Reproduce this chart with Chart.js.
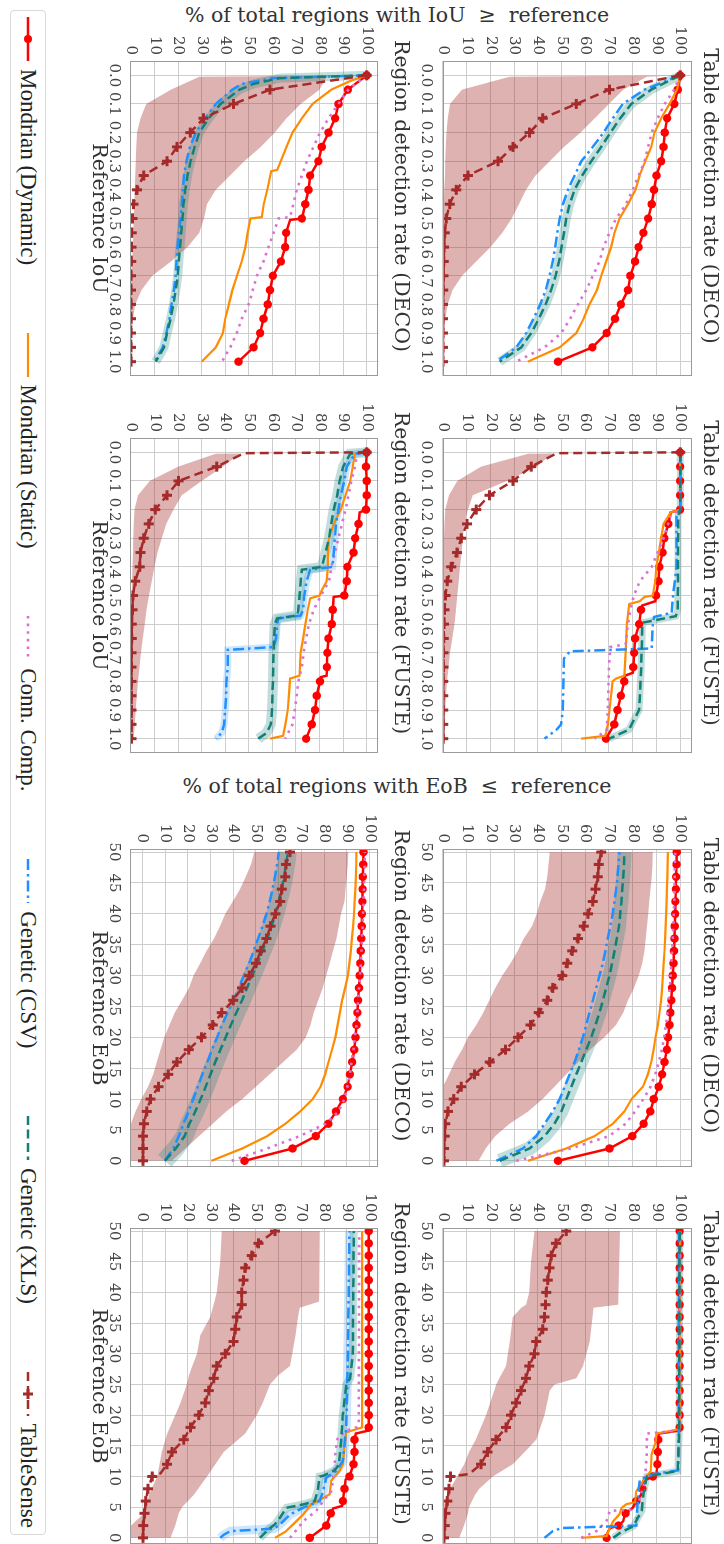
<!DOCTYPE html>
<html>
<head>
<meta charset="utf-8">
<script src="https://cdn.jsdelivr.net/npm/chart.js@4.4.1/dist/chart.umd.min.js"></script>
<style>
html, body { margin:0; padding:0; background:#fff; }
body { width:724px; height:1544px; overflow:hidden; position:relative; }
#fig { position:absolute; left:0; top:0; width:1544px; height:724px; transform-origin:0 0; transform:translate(724px,0) rotate(90deg); background:#fff; }
#fig canvas { position:absolute; }
.ylab { position:absolute; width:520px; height:26px; line-height:26px; text-align:center; font:20.5px 'DejaVu Serif', serif; color:#333; transform:rotate(-90deg); white-space:nowrap; }
#legend { position:absolute; left:10px; top:678px; width:1525px; height:36px; box-sizing:border-box; border:1px solid #d9d9d9; border-radius:4px; display:flex; align-items:center; justify-content:space-between; padding:0 6px; font:23px 'Liberation Serif', serif; color:#222; }
.item { display:flex; align-items:center; white-space:nowrap; }
.item svg { margin-right:8px; }
</style>
</head>
<body>
<div id="fig">
  <div class="ylab" style="left:-244px; top:314px;">% of total regions with IoU &nbsp;≥&nbsp; reference</div>
  <div class="ylab" style="left:527px; top:314px;">% of total regions with EoB &nbsp;≤&nbsp; reference</div>
  <div id="legend">
    <div class="item"><svg width="44" height="20"><line x1="0" y1="10" x2="44" y2="10" stroke="#ff0000" stroke-width="2.5"/><circle cx="22" cy="10" r="4" fill="#ff0000"/></svg>Mondrian (Dynamic)</div>
    <div class="item"><svg width="44" height="20"><line x1="0" y1="10" x2="44" y2="10" stroke="#ff8c00" stroke-width="2.2"/></svg>Mondrian (Static)</div>
    <div class="item"><svg width="44" height="20"><line x1="0" y1="10" x2="44" y2="10" stroke="#da70d6" stroke-width="2.6" stroke-dasharray="2.6 5"/></svg>Conn. Comp.</div>
    <div class="item"><svg width="44" height="20"><line x1="0" y1="10" x2="44" y2="10" stroke="#1e90ff" stroke-width="2.5" stroke-dasharray="11 4 2.5 4"/></svg>Genetic (CSV)</div>
    <div class="item"><svg width="44" height="20"><line x1="0" y1="10" x2="44" y2="10" stroke="#138078" stroke-width="2.5" stroke-dasharray="9 4.5"/></svg>Genetic (XLS)</div>
    <div class="item"><svg width="44" height="20"><line x1="0" y1="10" x2="44" y2="10" stroke="#a52a2a" stroke-width="2.5" stroke-dasharray="9 5"/><path d="M17 10 H27 M22 5 V15" stroke="#a52a2a" stroke-width="3"/></svg>TableSense</div>
  </div>
</div>
<script>
// x grids and tick labels
const IOU_X = [0, 0.05, 0.1, 0.15, 0.2, 0.25, 0.3, 0.35, 0.4, 0.45, 0.5, 0.55, 0.6, 0.65, 0.7, 0.75, 0.8, 0.85, 0.9, 0.95, 1];
const IOU_BAND_X = [0, 0.005, 0.05, 0.1, 0.15, 0.2, 0.25, 0.3, 0.35, 0.4, 0.45, 0.5, 0.55, 0.6, 0.65, 0.7, 0.75, 0.8, 0.85, 0.9, 0.95, 1];
const EOB_X = [0, 2, 4, 6, 8, 10, 12, 14, 16, 18, 20, 22, 24, 26, 28, 30, 32, 34, 36, 38, 40, 42, 44, 46, 48, 50];
const IOU_TICKS = [0, 0.1, 0.2, 0.3, 0.4, 0.5, 0.6, 0.7, 0.8, 0.9, 1];
const EOB_TICKS = [0, 5, 10, 15, 20, 25, 30, 35, 40, 45, 50];
const Y_TICKS = [0, 10, 20, 30, 40, 50, 60, 70, 80, 90, 100];

// Table detection rate (DECO), IoU
const tIouDecoDyn = [100, 99, 97.5, 94.5, 93.5, 93, 92, 90, 89, 88, 86.5, 84.5, 82.5, 81, 79, 78, 75, 72.5, 69, 63, 48.5];
const tIouDecoSta = [100, 98.7, 95.5, 92, 89.2, 87.8, 85.3, 82.9, 81.2, 78, 74.4, 72.3, 70.9, 68.8, 66.7, 64.9, 61.8, 59.3, 56.2, 49.2, 35.8];
const tIouDecoConn = [100, 97.5, 93.5, 90.5, 88, 86.5, 85, 82.5, 80, 77.2, 73, 70.2, 67.7, 66, 63.2, 60.4, 56.9, 53.6, 49.9, 42.8, 30.9];
const tIouDecoCsv = [100, 85, 75.8, 71.6, 67.7, 63.2, 58.3, 55.5, 52.7, 50.6, 49.2, 48.2, 47.3, 46.3, 44.9, 43.3, 41, 38.2, 35.1, 30.9, 22.5];
const tIouDecoXls = [100, 87.8, 79.4, 74.7, 70.6, 66.7, 62.5, 58.7, 55.5, 53.4, 52, 51, 50, 48.9, 47.5, 45.6, 43.3, 40.4, 37.2, 33, 23.9];
const tIouDecoTs = [100, 70.2, 56.2, 42.1, 36.5, 29.5, 23.2, 10.5, 5.6, 2.8, 1.4, 0.7, 0.4, 0.3, 0.2, 0.1, 0, 0, 0, 0, 0];
const tIouDecoTsHi = [100, 86, 76, 70, 64, 58, 51, 45, 39, 35, 32, 29, 25, 20, 14, 8, 4, 2, 1, 0.5, 0, 0];
const tIouDecoTsLo = [100, 28, 8, 3, 2, 1.5, 1.2, 1, 0.8, 0.5, 0.3, 0, 0, 0, 0, 0, 0, 0, 0, 0, 0, 0];

// Region detection rate (DECO), IoU
const rIouDecoDyn = [[0,100],[0.05,92],[0.1,88],[0.15,86.6],[0.2,83.8],[0.25,80.9],[0.3,79.5],[0.35,76],[0.4,75.3],[0.45,73.9],[0.5,72.5],[0.505,67.5],[0.55,65.8],[0.6,65.4],[0.65,63.6],[0.7,60.2],[0.75,59],[0.8,58],[0.85,56.2],[0.9,54.8],[0.95,52],[1,45.6]];
const rIouDecoSta = [[0,100],[0.02,93],[0.05,85],[0.1,77],[0.15,72.5],[0.2,68.5],[0.25,66],[0.3,63.5],[0.33,62],[0.335,59.5],[0.4,57.8],[0.45,56.3],[0.495,55.5],[0.5,50.7],[0.55,49.5],[0.6,48.5],[0.65,47],[0.7,45],[0.75,43],[0.8,41.5],[0.85,40],[0.9,39],[0.95,36],[1,30]];
const rIouDecoConn = [[0,100],[0.05,92.2],[0.1,88],[0.15,83.8],[0.2,80.2],[0.25,77.4],[0.3,74.6],[0.35,72.5],[0.4,70.3],[0.45,68.9],[0.495,67.5],[0.5,62.6],[0.55,60.5],[0.6,58.3],[0.65,56.2],[0.7,53.4],[0.75,51.7],[0.8,49.9],[0.85,47],[0.9,44.9],[0.95,42.1],[1,38.6]];
const rIouDecoCsv = [[0,100],[0.01,60],[0.03,47],[0.05,43],[0.1,36],[0.15,31.5],[0.2,27.5],[0.25,25],[0.3,23.5],[0.35,22.5],[0.4,22],[0.45,21.5],[0.5,21],[0.55,20.3],[0.6,19.7],[0.65,19.3],[0.7,19],[0.75,18.2],[0.8,17.2],[0.85,16.3],[0.9,15],[0.95,13.5],[1,10]];
const rIouDecoXls = [[0,100],[0.01,63],[0.03,52],[0.05,46],[0.1,38],[0.15,33],[0.2,29],[0.25,27],[0.3,25.3],[0.35,24],[0.4,23],[0.45,22.3],[0.5,21.8],[0.55,21.3],[0.6,20.8],[0.65,20.3],[0.7,19.8],[0.75,19],[0.8,18],[0.85,16.8],[0.9,15.3],[0.95,14],[1,10.5]];
const rIouDecoTs = [100, 59, 43.5, 30.8, 25.1, 19.5, 15.3, 5.4, 2.5, 1.1, 0.6, 0.3, 0.2, 0.1, 0, 0, 0, 0, 0, 0, 0];
const rIouDecoTsHi = [100, 83, 80, 72, 66, 61, 55, 48, 42, 36, 32.2, 31, 29, 24, 17, 9, 4.5, 1.8, 0.8, 0.3, 0, 0];
const rIouDecoTsLo = [100, 29, 17, 6.5, 4, 2.5, 2.2, 2, 1.8, 1.6, 1.5, 1.2, 1, 0.8, 0.4, 0, 0, 0, 0, 0, 0, 0];

// Table detection rate (FUSTE), IoU
const tIouFusteDyn = [[0,100],[0.05,100],[0.1,100],[0.15,100],[0.2,100],[0.21,96],[0.25,95],[0.3,93.3],[0.35,92.6],[0.4,91.2],[0.45,90.9],[0.5,89.8],[0.52,89.5],[0.535,84],[0.55,83.5],[0.6,82.7],[0.65,81],[0.7,80.6],[0.75,80.2],[0.77,80],[0.78,76.8],[0.8,76.4],[0.85,75],[0.9,73.6],[0.95,72.2],[1,68.7]];
const tIouFusteSta = [[0,100],[0.2,100],[0.21,96],[0.25,93],[0.3,92],[0.35,91],[0.4,90],[0.45,89.5],[0.5,88.5],[0.505,85],[0.52,83],[0.53,78.5],[0.6,77.5],[0.7,77],[0.78,76.5],[0.79,73],[0.8,71.5],[0.9,70.2],[0.95,69.5],[0.99,68.5],[1,58.2]];
const tIouFusteConn = [[0,100],[0.2,100],[0.22,96],[0.3,93],[0.4,88],[0.45,83],[0.5,80.5],[0.55,79],[0.6,78],[0.67,77],[0.68,70.5],[0.75,70],[0.9,69.5],[0.97,69],[1,64]];
const tIouFusteCsv = [[0,100],[0.2,100],[0.22,98.5],[0.4,98.5],[0.5,97],[0.56,96.5],[0.575,89],[0.6,88.5],[0.685,88],[0.695,53.5],[0.72,51],[0.9,50.5],[0.95,49.8],[0.97,47.7],[1,42.8]];
const tIouFusteXls = [[0,100],[0.2,100],[0.22,99.2],[0.55,99],[0.572,98.2],[0.595,84.1],[0.77,83.5],[0.9,82.7],[0.933,80.6],[0.968,78.5],[1,70.1]];
const tIouFusteTs = [[0,100],[0.003,48],[0.05,37.2],[0.1,29.5],[0.15,19.6],[0.2,14],[0.25,10.1],[0.3,7.7],[0.35,5.9],[0.4,3.5],[0.45,1.8],[0.5,1.1],[0.55,0.6],[0.6,0.4],[0.65,0.3],[0.7,0.2],[0.75,0.2],[0.8,0.1],[0.85,0.1],[0.9,0.1],[0.95,0.1],[1,0.1]];
const tIouFusteTsHi = [100, 46, 39.5, 27, 12.5, 10.5, 9, 8.3, 7.8, 7.2, 6.6, 6, 5.5, 4.9, 3.9, 3, 2.3, 1.7, 1.3, 1, 0.8, 0.6];
const tIouFusteTsLo = [100, 36, 16, 6, 2.5, 1, 0.6, 0.4, 0.3, 0.3, 0.2, 0.2, 0.1, 0.1, 0, 0, 0, 0, 0, 0, 0, 0];

// Region detection rate (FUSTE), IoU
const rIouFusteDyn = [[0,100],[0.05,99.7],[0.1,100],[0.15,100],[0.2,99.7],[0.21,97],[0.25,96.5],[0.3,95.1],[0.35,94.4],[0.4,91.8],[0.45,91.5],[0.5,90.5],[0.505,86],[0.55,85.6],[0.6,85.2],[0.65,83.8],[0.7,83.3],[0.75,83.1],[0.78,83],[0.785,80.5],[0.8,80.2],[0.85,78.8],[0.9,78.1],[0.95,76.7],[1,74.3]];
const rIouFusteSta = [[0,100],[0.005,95],[0.1,93],[0.15,91],[0.2,89],[0.25,86],[0.3,84],[0.35,83.5],[0.4,83.5],[0.45,83],[0.48,81],[0.5,80],[0.51,76],[0.55,75],[0.6,74],[0.65,73],[0.7,72],[0.78,71.5],[0.79,67.5],[0.85,67],[0.9,66.5],[0.95,65.5],[0.99,64.5],[1,59]];
const rIouFusteConn = [[0,100],[0.005,96],[0.05,95],[0.1,93.5],[0.2,91],[0.3,88],[0.4,85],[0.45,84],[0.5,80.6],[0.55,77.5],[0.6,75.5],[0.65,74.3],[0.7,73.2],[0.75,72.5],[0.8,71],[0.85,70.3],[0.9,69.5],[0.95,68.5],[1,65.4]];
const rIouFusteCsv = [[0,100],[0.005,95],[0.05,91.5],[0.1,90.5],[0.15,89],[0.2,88],[0.25,87],[0.3,86.5],[0.35,86],[0.4,85.5],[0.41,76],[0.45,74.5],[0.5,73.5],[0.55,73],[0.57,72],[0.58,62.5],[0.6,62],[0.65,61.5],[0.68,60.5],[0.69,41],[0.75,41],[0.8,40.5],[0.85,40.3],[0.9,40],[0.95,39.5],[0.98,38.5],[1,36]];
const rIouFusteXls = [[0,100],[0.005,93],[0.05,90],[0.1,88.5],[0.15,87.5],[0.2,86],[0.25,85],[0.3,84],[0.35,82.5],[0.4,81],[0.41,72.5],[0.45,72],[0.5,71.5],[0.55,71],[0.57,70.5],[0.58,62],[0.6,61],[0.7,60.5],[0.8,60.2],[0.9,59.8],[0.95,59.3],[0.98,57.5],[1,54]];
const rIouFusteTs = [[0,100],[0.003,48],[0.05,36.4],[0.1,20.2],[0.15,15.3],[0.2,10.3],[0.25,7.5],[0.3,5.4],[0.35,4],[0.4,3.7],[0.45,1.8],[0.5,0.8],[0.55,0.6],[0.6,0.3],[0.65,0.3],[0.7,0.2],[0.75,0.2],[0.8,0.2],[0.85,0.2],[0.9,0.2],[0.95,0.2],[1,0.2]];
const rIouFusteTsHi = [100, 46, 39, 30, 21.5, 18, 15, 13, 11.2, 10, 8.8, 7.6, 6.6, 5.8, 5, 4.2, 3.6, 3, 2.4, 2, 1.6, 1.2];
const rIouFusteTsLo = [100, 36, 20, 8, 3, 1.5, 1.2, 1, 0.8, 0.6, 0.4, 0.3, 0.2, 0, 0, 0, 0, 0, 0, 0, 0, 0];

// Table detection rate (DECO), EoB
const tEobDecoDyn = [48.5, 70.2, 79.8, 84.6, 87.4, 88.9, 91, 92.4, 93.4, 94.4, 94.9, 95.5, 95.9, 96.3, 96.6, 96.9, 97.2, 97.4, 97.6, 97.7, 97.9, 98, 98.2, 98.3, 98.5, 98.6];
const tEobDecoSta = [35.8, 52, 63.9, 71.6, 76.5, 79.5, 84.3, 86.4, 87.8, 88.8, 89.6, 90.6, 91.3, 92, 92.4, 92.7, 93, 93.4, 93.7, 93.9, 94.1, 94.3, 94.4, 94.6, 94.7, 94.8];
const tEobDecoConn = [30.9, 54, 70, 77, 81, 84.5, 87.5, 89.5, 91, 92.3, 93.3, 94, 94.6, 95.2, 95.6, 96, 96.3, 96.6, 96.9, 97.1, 97.3, 97.5, 97.6, 97.7, 97.8, 97.9];
const tEobDecoCsv = [22.5, 33.7, 39.3, 42.8, 46.3, 49.2, 51.3, 53.4, 55.5, 57.3, 59, 60.4, 61.8, 63.2, 64.6, 66, 67.4, 68.5, 69.5, 70.5, 71.6, 72.3, 73, 73.6, 74, 74.4];
const tEobDecoXls = [23.9, 36.5, 42.8, 47, 49.9, 52, 54.1, 56.2, 58.3, 60.4, 62.5, 64.3, 66, 67.4, 68.8, 70.2, 71.3, 72.3, 73.3, 74.2, 74.7, 75.3, 75.6, 76, 76.3, 76.5];
const tEobDecoTs = [0.4, 0.4, 0.7, 1, 2.1, 4.5, 7.7, 13.3, 19.7, 26.4, 31.6, 36.9, 40.4, 44, 46.3, 50.3, 52.4, 54.5, 56.9, 59.3, 61.1, 63.2, 64.3, 65.3, 65.7, 66.7];
const tEobDecoTsHi = [15, 18, 22, 28, 36, 42, 47, 52, 57, 62, 68, 73, 76, 78, 80.5, 82.5, 84, 85, 85.5, 86, 86.5, 87, 87.5, 88, 88.3, 88.5];
const tEobDecoTsLo = [0, 0, 0, 0, 0, 0, 0, 2.5, 5, 8, 10.5, 14, 17, 19.5, 22, 25, 28.5, 31.5, 34, 37.5, 39.5, 41, 43, 44, 44.5, 45];

// Region detection rate (DECO), EoB
const rEobDecoDyn = [45, 66.1, 76.4, 81.9, 85.3, 88.3, 90.4, 91.4, 92.4, 93.3, 93.9, 94.3, 94.7, 95, 95.4, 95.7, 96, 96.2, 96.4, 96.6, 96.7, 96.9, 97, 97.1, 97.3, 97.4];
const rEobDecoSta = [30.4, 44, 55, 63, 69.5, 75, 78.5, 80.5, 82, 83.5, 85, 86, 87, 88, 89.3, 90.5, 91.2, 91.8, 92.3, 92.8, 93.2, 93.5, 93.8, 94, 94.2, 94.3];
const rEobDecoConn = [39.3, 55, 69.3, 80.7, 86.4, 89, 90.3, 91.4, 92.1, 93, 93.6, 94.3, 94.7, 95, 95.4, 95.9, 96.2, 96.5, 96.7, 97, 97.2, 97.4, 97.6, 97.7, 97.9, 98];
const rEobDecoCsv = [9.9, 13.6, 16.1, 18.1, 20.4, 22.4, 24.4, 26.4, 28.6, 30.7, 32.9, 35, 37.6, 40.1, 42.4, 44.7, 47, 49, 51, 52.9, 54.7, 56.1, 57.3, 58.4, 59.3, 60.1];
const rEobDecoXls = [9.9, 14.7, 18.6, 20.7, 23.3, 25.7, 27.9, 30, 32.1, 34.4, 36.7, 39, 41.4, 43.9, 46.1, 48.4, 50.7, 52.9, 55, 56.9, 58.6, 60, 61.4, 62.4, 63.3, 64.1];
const rEobDecoTs = [0.3, 0.3, 0.3, 0.7, 1.9, 3.6, 7.1, 11.4, 15.3, 20.4, 26.1, 31, 35, 40, 43.9, 47.1, 50, 52.1, 54.7, 56.4, 58.6, 60.7, 61.4, 62.9, 63.3, 65];
const rEobDecoTsHi = [13, 19, 25, 31, 37, 44, 50, 56, 62, 68, 72, 74, 75.5, 77.5, 79.5, 81, 82.5, 84, 85.5, 86.5, 87.5, 89, 89.5, 90, 90.5, 90.7];
const rEobDecoTsLo = [-8, -7, -6, -5, -3, -0.5, 2.5, 4.8, 6.3, 8, 9.6, 12, 14.3, 17.5, 20.5, 22.5, 25.5, 28.3, 31.5, 34.2, 36.5, 39.8, 43, 45.5, 47.8, 49.3];

// Table detection rate (FUSTE), EoB
const tEobFusteDyn = [[0,69],[1,69.5],[1.6,70.5],[2,74],[2.7,76],[3.8,76.7],[4,77],[4.9,80],[6,81.5],[7,83.5],[8,84],[9.3,84.5],[10,88.5],[10.4,90],[12,90.4],[14,90.6],[16,90.8],[17,91],[17.5,99.8],[18,99.8],[20,99.8],[22,99.8],[24,99.8],[26,99.8],[28,99.8],[30,99.8],[32,99.8],[34,99.8],[36,99.8],[38,99.8],[40,99.8],[42,99.8],[44,99.8],[46,99.8],[48,99.8],[50,99.8]];
const tEobFusteSta = [[0,58.3],[0.3,69],[1.6,70.3],[2.7,71.8],[3.8,74.3],[4.9,75.3],[5.5,77.4],[5.8,81],[7.6,81.5],[9.8,85.2],[10.9,87.6],[13.6,88],[15.8,89.8],[17,90],[17.7,99.5],[18,100],[50,100]];
const tEobFusteConn = [[0,58.3],[1.1,64.7],[2.7,68.9],[4.4,70.3],[4.6,80],[5.5,82.3],[9.3,85.2],[13.6,85.9],[17,86],[17.5,99.5],[18,100],[50,100]];
const tEobFusteCsv = [[0,42.8],[1.1,46.3],[1.6,50],[2,81.5],[4,81.8],[7,82.3],[9.5,83],[10.4,89],[11,99.2],[18,99.4],[50,99.5]];
const tEobFusteXls = [[0,71.8],[0.8,74.6],[1.9,80.2],[4.4,83.8],[7.1,84.5],[10,85.9],[10.9,99],[18,99.6],[50,99.8]];
const tEobFusteTs = [[0,0.4],[2,0.7],[4,1.1],[6,1.8],[8,2.5],[10,3.2],[10.4,11],[12,16],[14,18.8],[16,22.3],[18,26.6],[20,28.7],[22,30.8],[24,32.9],[26,35],[28,36.4],[30,38.6],[32,39.3],[34,42.1],[36,42.8],[38,43.2],[40,43.5],[42,44.2],[44,44.9],[46,45.6],[48,47.7],[50,52]];
const tEobFusteBandX = [0, 2, 4, 5, 7, 8, 10, 12, 14, 16, 20, 24, 25, 26, 28, 32, 36, 37.5, 38, 40, 45, 50];
const tEobFusteTsHi = [6.8, 8.9, 10.5, 11, 13.5, 15.3, 21, 29.4, 34.5, 39.3, 42.8, 45, 47, 56.2, 59, 61.9, 63, 63.5, 73.9, 74, 74.3, 74.6];
const tEobFusteTsLo = [-2, -1, -0.5, 0, 1.8, 3, 6, 9, 11, 13.8, 18.1, 21.6, 22.5, 23.7, 26.6, 28.2, 29.4, 33, 35, 36.4, 37.1, 38.6];

// Region detection rate (FUSTE), EoB
const rEobFusteDyn = [[0,73.7],[2,81],[3.8,82.8],[4,83],[4.8,84],[5.2,88],[6,88.3],[8,89],[9.5,89.5],[10,91.2],[12,93],[14,93.4],[16,93.4],[17,94],[17.5,99.7],[18,99.7],[20,99.7],[22,99.7],[24,99.7],[26,99.7],[28,99.7],[30,99.7],[32,99.7],[34,99.7],[36,99.7],[38,99.7],[40,99.7],[42,99.7],[44,99.7],[46,99.7],[48,99.7],[50,99.7]];
const rEobFusteSta = [[0,58.4],[1,63],[2.2,66.4],[3.8,70.8],[5.5,74.5],[6.5,79.6],[7.1,82.5],[9.3,83.2],[10.9,86.9],[12,88.3],[14.7,89],[17.2,89.8],[18,96.8],[50,96.8]];
const rEobFusteConn = [[0,65],[1.6,68.6],[2.7,70.8],[4.4,76.6],[6,79.6],[7.6,83.2],[9.3,83.9],[12,84.7],[14.2,85.1],[16.4,86.1],[17.5,90],[18,94.2],[18.5,95.3],[50,95.5]];
const rEobFusteCsv = [[0,34.3],[0.5,35.8],[1.1,38.7],[1.5,58],[2.2,60.6],[3.8,65],[4.9,70.8],[6,78.1],[7.6,79.6],[9.8,81],[10.9,85.4],[12.5,88.3],[18,89.8],[28.9,90.5],[50,91.2]];
const rEobFusteXls = [[0,51.8],[1.6,56.2],[2.2,58.4],[3.3,60.6],[4.9,63.5],[5.5,71.5],[6,75.9],[8,77.4],[10,78.1],[10.1,79.6],[11,84.7],[12,86.6],[16,87.6],[20,88.3],[25,89.8],[26,91.5],[30,92.7],[50,93.1]];
const rEobFusteTs = [[0,0.3],[2,0.4],[4,1],[6,1.5],[8,2.5],[10,4.4],[10.5,8],[12,10.9],[14,13.1],[16,18.2],[18,21.2],[20,24.8],[22,27.7],[24,29.2],[26,31.4],[28,32.8],[30,36.5],[32,40.1],[34,40.9],[36,41.6],[38,43.8],[40,43.8],[42,44.5],[44,45.3],[46,48.2],[48,51.1],[50,58.4]];
const rEobFusteBandX = [0, 2, 4, 5, 7, 10, 14, 17, 20, 22, 25, 26.5, 28, 30, 33, 36, 37.5, 38.5, 40, 45, 50];
const rEobFusteTsHi = [12.4, 14.5, 16, 17.5, 22.6, 28.5, 35.8, 45.3, 50.4, 53, 56.2, 59.9, 65, 66, 67.5, 68.5, 69.3, 77.8, 77.9, 78, 78.1];
const rEobFusteTsLo = [-6, -5, 0.7, 1.5, 2.9, 6.6, 8.5, 11, 14.5, 16.8, 19.5, 20.5, 22, 24.1, 25.5, 29.9, 31, 31.8, 32.8, 34.3, 35];

const RED = '#ff0000', ORANGE = '#ff8c00', ORCHID = '#da70d6', BLUE = '#1e90ff', TEAL = '#138078', BROWN = '#a52a2a';
const FONT = "'DejaVu Serif', serif";
const GRID = '#cdcdcd';
const LABEL_SIZE = 20.5;

const panels = [
  { title: 'Table detection rate (DECO)', row: 0, kind: 'iou', left: 61, width: 315,
    dyn: tIouDecoDyn, sta: tIouDecoSta, conn: tIouDecoConn, csv: tIouDecoCsv, xls: tIouDecoXls, ts: tIouDecoTs,
    bandX: IOU_BAND_X, hi: tIouDecoTsHi, lo: tIouDecoTsLo, glowXls: 9 },
  { title: 'Region detection rate (DECO)', row: 1, kind: 'iou', left: 61, width: 315,
    dyn: rIouDecoDyn, sta: rIouDecoSta, conn: rIouDecoConn, csv: rIouDecoCsv, xls: rIouDecoXls, ts: rIouDecoTs,
    bandX: IOU_BAND_X, hi: rIouDecoTsHi, lo: rIouDecoTsLo, glowXls: 9 },
  { title: 'Table detection rate (FUSTE)', row: 0, kind: 'iou', left: 438, width: 315,
    dyn: tIouFusteDyn, sta: tIouFusteSta, conn: tIouFusteConn, csv: tIouFusteCsv, xls: tIouFusteXls, ts: tIouFusteTs,
    bandX: IOU_BAND_X, hi: tIouFusteTsHi, lo: tIouFusteTsLo, glowXls: 7 },
  { title: 'Region detection rate (FUSTE)', row: 1, kind: 'iou', left: 438, width: 315,
    dyn: rIouFusteDyn, sta: rIouFusteSta, conn: rIouFusteConn, csv: rIouFusteCsv, xls: rIouFusteXls, ts: rIouFusteTs,
    bandX: IOU_BAND_X, hi: rIouFusteTsHi, lo: rIouFusteTsLo, glowXls: 10, glowCsv: 7 },
  { title: 'Table detection rate (DECO)', row: 0, kind: 'eob', left: 849, width: 318,
    dyn: tEobDecoDyn, sta: tEobDecoSta, conn: tEobDecoConn, csv: tEobDecoCsv, xls: tEobDecoXls, ts: tEobDecoTs,
    bandX: EOB_X, hi: tEobDecoTsHi, lo: tEobDecoTsLo, glowXls: 14 },
  { title: 'Region detection rate (DECO)', row: 1, kind: 'eob', left: 849, width: 318, yMin: -5, yMax: 104,
    dyn: rEobDecoDyn, sta: rEobDecoSta, conn: rEobDecoConn, csv: rEobDecoCsv, xls: rEobDecoXls, ts: rEobDecoTs,
    bandX: EOB_X, hi: rEobDecoTsHi, lo: rEobDecoTsLo, glowXls: 18 },
  { title: 'Table detection rate (FUSTE)', row: 0, kind: 'eob', left: 1228, width: 316,
    dyn: tEobFusteDyn, sta: tEobFusteSta, conn: tEobFusteConn, csv: tEobFusteCsv, xls: tEobFusteXls, ts: tEobFusteTs,
    bandX: tEobFusteBandX, hi: tEobFusteTsHi, lo: tEobFusteTsLo, glowXls: 7 },
  { title: 'Region detection rate (FUSTE)', row: 1, kind: 'eob', left: 1228, width: 316, yMin: -5, yMax: 104,
    dyn: rEobFusteDyn, sta: rEobFusteSta, conn: rEobFusteConn, csv: rEobFusteCsv, xls: rEobFusteXls, ts: rEobFusteTs,
    bandX: rEobFusteBandX, hi: rEobFusteTsHi, lo: rEobFusteTsLo, glowXls: 8, glowCsv: 9 }
];

function toPts(v, grid) {
  if (typeof v[0] === 'number') return v.map((y, i) => ({ x: grid[i], y }));
  return v.map(([x, y]) => ({ x, y }));
}

function onGrid(x, step) {
  const k = x / step;
  return Math.abs(k - Math.round(k)) < 1e-6;
}

const framePlugin = {
  id: 'frame',
  afterDatasetsDraw(chart) {
    const { ctx, chartArea: a } = chart;
    ctx.save();
    ctx.strokeStyle = '#9a9a9a';
    ctx.lineWidth = 1;
    ctx.strokeRect(Math.round(a.left) + 0.5, Math.round(a.top) + 0.5, Math.round(a.width) - 1, Math.round(a.height) - 1);
    ctx.restore();
  }
};

const fig = document.getElementById('fig');

function makePanel(p) {
  const iou = p.kind === 'iou';
  const grid = iou ? IOU_X : EOB_X;
  const step = iou ? 0.05 : 2;
  const top = p.row === 0;
  const W = p.width + 45 + 12;
  const H = top ? 311 : 327;
  const lh = LABEL_SIZE * 1.2;
  const padTop = top ? 15 - lh / 2 : 13 - lh / 2;
  const titleGap = (top ? 32 : 34.5) - padTop - lh;
  const canvas = document.createElement('canvas');
  canvas.width = W; canvas.height = H;
  canvas.style.left = (p.left - 45) + 'px';
  canvas.style.top = (top ? 0 : 311) + 'px';
  canvas.style.width = W + 'px';
  canvas.style.height = H + 'px';
  fig.appendChild(canvas);

  const mark = r => ctx => (ctx.raw && onGrid(ctx.raw.x, step)) ? r : 0;

  const datasets = [
    { data: toPts(p.hi, p.bandX), borderWidth: 0, pointRadius: 0, fill: '+1', backgroundColor: 'rgba(165,42,42,0.36)', order: 10 },
    { data: toPts(p.lo, p.bandX), borderWidth: 0, pointRadius: 0, fill: false, order: 10 }
  ];
  if (p.glowXls) datasets.push({ data: toPts(p.xls, grid), borderColor: 'rgba(19,128,120,0.26)', borderWidth: p.glowXls, pointRadius: 0, order: 9 });
  if (p.glowCsv) datasets.push({ data: toPts(p.csv, grid), borderColor: 'rgba(30,144,255,0.22)', borderWidth: p.glowCsv, pointRadius: 0, order: 9 });
  datasets.push(
    { data: toPts(p.dyn, grid), borderColor: RED, borderWidth: 2.5, pointRadius: mark(4.2), pointBackgroundColor: RED, pointBorderWidth: 0, order: 6 },
    { data: toPts(p.sta, grid), borderColor: ORANGE, borderWidth: 2.2, pointRadius: 0, order: 5 },
    { data: toPts(p.conn, grid), borderColor: ORCHID, borderWidth: 2.6, borderDash: [2.6, 5], pointRadius: 0, order: 4 },
    { data: toPts(p.csv, grid), borderColor: BLUE, borderWidth: 2.5, borderDash: [11, 4, 2.5, 4], pointRadius: 0, order: 3 },
    { data: toPts(p.xls, grid), borderColor: TEAL, borderWidth: 2.5, borderDash: [9, 4.5], pointRadius: 0, order: 2 },
    { data: toPts(p.ts, grid), borderColor: BROWN, borderWidth: 2.5, borderDash: [9, 5], pointRadius: mark(5), pointStyle: 'cross',
      pointBorderColor: BROWN, pointBorderWidth: 3, order: 1 }
  );

  new Chart(canvas.getContext('2d'), {
    type: 'line',
    data: { datasets },
    options: {
      responsive: false,
      animation: false,
      devicePixelRatio: 1,
      events: [],
      layout: { padding: { top: padTop, left: 0, right: 12, bottom: 0 } },
      elements: { line: { tension: 0 } },
      plugins: {
        legend: { display: false },
        tooltip: { enabled: false },
        title: { display: true, text: p.title, color: '#333', font: { family: FONT, size: LABEL_SIZE, weight: 'normal' },
                 padding: { top: 0, bottom: titleGap } }
      },
      scales: {
        x: {
          type: 'linear',
          min: iou ? -0.05 : -1,
          max: iou ? 1.05 : 50.5,
          reverse: !iou,
          grid: { color: GRID, drawTicks: false },
          border: { display: false },
          ticks: { font: { family: FONT, size: 15 }, color: '#444', padding: 8, autoSkip: false, maxRotation: 0, minRotation: 0,
                   callback: v => iou ? Number(v).toFixed(1) : String(v) },
          afterBuildTicks: s => { s.ticks = (iou ? IOU_TICKS : EOB_TICKS).map(v => ({ value: v })); },
          afterFit: s => { s.height = top ? 30 : 45; },
          title: { display: !top, text: iou ? 'Reference IoU' : 'Reference EoB', color: '#333',
                   font: { family: FONT, size: LABEL_SIZE }, padding: { top: 0, bottom: 0 } }
        },
        y: {
          type: 'linear',
          min: p.yMin !== undefined ? p.yMin : 0,
          max: p.yMax !== undefined ? p.yMax : 105,
          grid: { color: GRID, drawTicks: false },
          border: { display: false },
          ticks: { font: { family: FONT, size: 15 }, color: '#444', padding: 6, autoSkip: false },
          afterBuildTicks: s => { s.ticks = Y_TICKS.map(v => ({ value: v })); },
          afterFit: s => { s.width = 45; }
        }
      }
    },
    plugins: [framePlugin]
  });
}

panels.forEach(makePanel);
</script>
</body>
</html>
